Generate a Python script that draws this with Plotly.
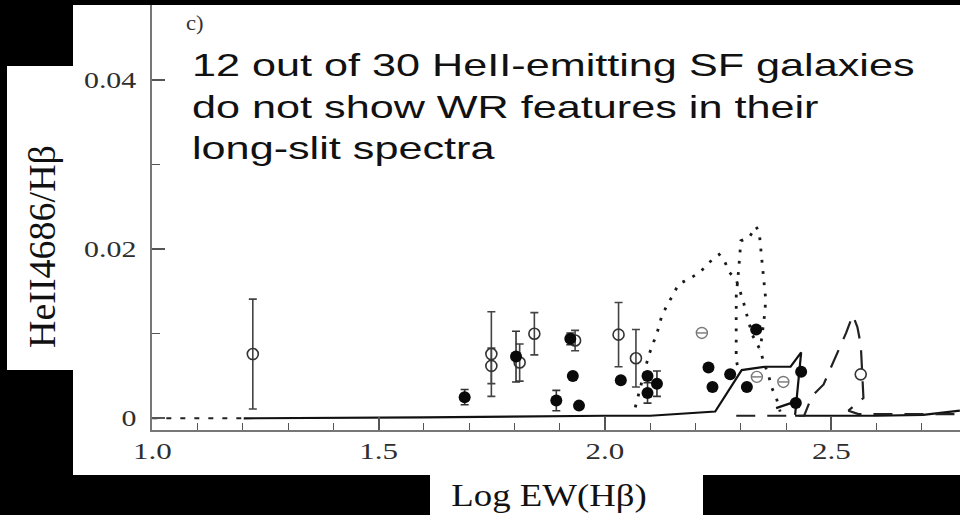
import plotly.graph_objects as go

# ---- observations: HeII4686/Hbeta versus log EW(Hbeta) ----
# galaxies without WR features (open circles, with 1-sigma errors)
open_x = [1.222, 1.749, 1.749, 1.8115, 1.844, 1.934, 2.030, 2.0684]
open_y = [0.0076, 0.0076, 0.0062, 0.0066, 0.0100, 0.0092, 0.0099, 0.0071]
open_err = [0.0065, 0.0050, 0.0021, 0.0022, 0.0025, 0.0012, 0.0038, 0.0034]
# open circle without a drawn error bar
open2_x = [2.565]
open2_y = [0.0052]
# galaxies with WR features (filled circles)
wr_x = [1.690, 1.8035, 1.8925, 1.9234, 1.929, 1.9426, 2.035, 2.094, 2.094,
        2.1148, 2.2287, 2.2375, 2.2766, 2.3135, 2.334, 2.4334, 2.4216]
wr_y = [0.0025, 0.0073, 0.0021, 0.0094, 0.0050, 0.0015, 0.0045, 0.0050, 0.0030,
        0.0041, 0.0060, 0.0037, 0.0052, 0.0037, 0.0105, 0.0055, 0.0018]
wr_err = [0.0009, 0.0030, 0.0012, 0.0007, 0, 0, 0, 0, 0.0012,
          0.0015, 0, 0, 0, 0, 0, 0, 0]
# crossed grey circles
grey_x = [2.214, 2.3355, 2.394]
grey_y = [0.0101, 0.0049, 0.0043]

# ---- model tracks ----
solid_x = [1.202, 1.60, 2.00, 2.10, 2.2435, 2.302, 2.354, 2.41, 2.4334, 2.420, None,
           2.378, 2.422, None, 2.42, 2.60, 2.703, 2.784]
solid_y = [0.0000, 0.0001, 0.0003, 0.0003, 0.0008, 0.0057, 0.0061, 0.0061, 0.0078, 0.0004, None,
           0.0012, 0.0020, None, 0.0003, 0.0003, 0.0004, 0.0009]

dot_x = [2.0669, 2.0963, 2.1060, 2.1161, 2.1243, 2.1353, 2.1492, 2.1629, 2.1861, 2.2104,
         2.2291, 2.2523, 2.2634, 2.2744, 2.2899, 2.3053, 2.3120, 2.3252, 2.3429, 2.3502,
         2.3612, 2.3687, 2.3797, 2.3870, None,
         2.2925, 2.2899, 2.2899, 2.2900, 2.2958, 2.2987, 2.3002, 2.3185, 2.3333, 2.3406,
         2.3429, 2.3451, 2.3488, 2.3517, 2.3545, 2.3539, 2.3480, 2.3429]
dot_y = [0.0013, 0.0074, 0.0088, 0.0103, 0.0119, 0.0132, 0.0145, 0.0159, 0.0165, 0.0173,
         0.0184, 0.0194, 0.0187, 0.0173, 0.0164, 0.0139, 0.0125, 0.0099, 0.0081, 0.0067,
         0.0051, 0.0036, 0.0022, 0.0008, None,
         0.0063, 0.0069, 0.0114, 0.0145, 0.0179, 0.0194, 0.0210, 0.0214, 0.0227, 0.0221,
         0.0205, 0.0190, 0.0175, 0.0159, 0.0144, 0.0128, 0.0105, 0.0081]

dash_x = [2.29, 2.44, 2.457, 2.483, 2.499, 2.518, 2.5327, 2.5475, 2.5576, 2.5651, 2.571,
          2.5378, 2.56, 2.784]
dash_y = [0.0003, 0.0003, 0.0026, 0.0040, 0.0060, 0.0082, 0.0101, 0.0122, 0.0108, 0.0087, 0.0024,
          0.0009, 0.0005, 0.0005]

low_x = [1.0, 1.202]
low_y = [0.0, 0.0]

# ---- axis ticks ----
x_ticks = [1.0, 1.5, 2.0, 2.5]
x_ticklabels = ["1.0", "1.5", "2.0", "2.5"]
y_ticks = [0.0, 0.02, 0.04]
y_ticklabels = ["0", "0.02", "0.04"]

x_range = [0.9993, 2.7843]
y_range = [-0.001385, 0.0495]

W, H = 960, 515
ML, MR, MT, MB = 152, 0, 0, 85
PW, PH = W - ML - MR, H - MT - MB


def px(x):
    return (x - ML) / PW


def py(y):
    return (H - MB - y) / PH


fig = go.Figure()

fig.add_trace(go.Scatter(x=low_x, y=low_y, mode="lines",
                         line=dict(color="#222", width=2, dash="5px,9px"),
                         hoverinfo="skip"))
fig.add_trace(go.Scatter(x=solid_x, y=solid_y, mode="lines",
                         line=dict(color="#111", width=2.2), hoverinfo="skip"))
fig.add_trace(go.Scatter(x=dot_x, y=dot_y, mode="lines",
                         line=dict(color="#1a1a1a", width=2.8, dash="2.8px,8.5px"),
                         hoverinfo="skip"))
fig.add_trace(go.Scatter(x=dash_x, y=dash_y, mode="lines",
                         line=dict(color="#222", width=2.2, dash="19px,12px"),
                         hoverinfo="skip"))

fig.add_trace(go.Scatter(
    x=open_x, y=open_y, mode="markers",
    marker=dict(symbol="circle-open", size=11, color="#333", line=dict(width=1.6)),
    error_y=dict(type="data", array=open_err, color="#444", thickness=1.6, width=4),
))
fig.add_trace(go.Scatter(
    x=open2_x, y=open2_y, mode="markers",
    marker=dict(symbol="circle-open", size=11, color="#333", line=dict(width=1.6)),
))
fig.add_trace(go.Scatter(
    x=grey_x, y=grey_y, mode="markers",
    marker=dict(symbol="circle-open", size=11, color="#777", line=dict(width=1.4)),
))
fig.add_trace(go.Scatter(
    x=grey_x, y=grey_y, mode="markers",
    marker=dict(symbol="line-ew", size=7, color="#777", line=dict(width=1.4, color="#777")),
))
fig.add_trace(go.Scatter(
    x=wr_x, y=wr_y, mode="markers",
    marker=dict(symbol="circle", size=12, color="#0a0a0a"),
    error_y=dict(type="data", array=wr_err, color="#333", thickness=1.6, width=4),
))

tick_font = dict(family="Liberation Serif", size=23, color="#2e2e2e")

fig.update_xaxes(
    range=x_range, tickmode="array", tickvals=x_ticks, ticktext=x_ticklabels,
    ticks="inside", ticklen=13, tickwidth=1.5, tickcolor="#555",
    minor=dict(dtick=0.1, ticks="inside", ticklen=7, tickwidth=1.3, tickcolor="#555"),
    showline=True, linecolor="#777", linewidth=2, showgrid=False, zeroline=False,
    tickfont=tick_font, ticklabelstandoff=-1,
)
fig.update_yaxes(
    range=y_range, tickmode="array", tickvals=y_ticks, ticktext=y_ticklabels,
    ticks="inside", ticklen=13, tickwidth=1.5, tickcolor="#555",
    minor=dict(dtick=0.01, ticks="inside", ticklen=8, tickwidth=1.3, tickcolor="#555"),
    showline=True, linecolor="#777", linewidth=2, showgrid=False, zeroline=False,
    tickfont=tick_font, ticklabelstandoff=9,
)

shapes = [
    # white panel holding the plot
    dict(type="rect", xref="paper", yref="paper", layer="below",
         x0=px(73), x1=px(960), y0=py(475), y1=py(5),
         fillcolor="white", line=dict(width=0)),
    # box behind the vertical axis title
    dict(type="rect", xref="paper", yref="paper", layer="below",
         x0=px(7), x1=px(73), y0=py(370), y1=py(66),
         fillcolor="white", line=dict(width=0)),
    # box behind the horizontal axis title
    dict(type="rect", xref="paper", yref="paper", layer="below",
         x0=px(430), x1=px(703), y0=py(515), y1=py(475),
         fillcolor="white", line=dict(width=0)),
    # dark strip along the top edge
    dict(type="rect", xref="paper", yref="paper", layer="above",
         x0=px(0), x1=px(960), y0=py(5), y1=py(-2),
         fillcolor="black", line=dict(width=0)),
]

annotations = [
    dict(text="c)", xref="paper", yref="paper", x=px(184), y=py(23),
         xanchor="left", yanchor="middle", showarrow=False,
         font=dict(family="Liberation Serif", size=21, color="#333")),
    dict(text="12 out of 30 HeII-emitting SF galaxies<br>do not show WR features in their<br>long-slit spectra",
         xref="paper", yref="paper", x=px(190), y=py(106),
         xanchor="left", yanchor="middle", align="left", showarrow=False,
         font=dict(family="Liberation Sans", size=32, color="#111")),
    dict(text="HeII4686/Hβ", xref="paper", yref="paper", x=px(42), y=py(246),
         xanchor="center", yanchor="middle", textangle=-90, showarrow=False,
         font=dict(family="Liberation Serif", size=38, color="#111")),
    dict(text="Log EW(Hβ)", xref="paper", yref="paper", x=px(549), y=py(495),
         xanchor="center", yanchor="middle", showarrow=False,
         font=dict(family="Liberation Serif", size=32, color="#111")),
]

fig.update_layout(
    width=W, height=H,
    margin=dict(l=ML, r=MR, t=MT, b=MB, pad=0),
    paper_bgcolor="black", plot_bgcolor="white",
    showlegend=False, shapes=shapes, annotations=annotations,
)

# The lettering of this figure is set wide; widen the text runs horizontally
# around their anchor edge once the plot has been drawn.
post_js = """
var gd = document.getElementById('{plot_id}');
function widen(el, sx, where) {
  var b = el.getBBox();
  var x0 = where === 'left' ? b.x : (where === 'right' ? b.x + b.width : b.x + b.width / 2);
  var t = el.getAttribute('transform') || '';
  el.setAttribute('transform', t + ' translate(' + x0 + ',0) scale(' + sx + ',1) translate(' + (-x0) + ',0)');
}
var annFactors = {0: [1.08, 'left'], 1: [1.35, 'left'], 3: [1.15, 'center']};
gd.querySelectorAll('g.annotation').forEach(function (g) {
  var i = g.getAttribute('data-index');
  var f = annFactors[i];
  if (!f) return;
  var t = g.querySelector('text.annotation-text');
  if (t) widen(t, f[0], f[1]);
});
gd.querySelectorAll('g.xtick text').forEach(function (t) { widen(t, 1.35, 'center'); });
gd.querySelectorAll('g.ytick text').forEach(function (t) { widen(t, 1.3, 'right'); });
"""

fig.write_html("out.html", post_script=post_js, config={"displayModeBar": False})
